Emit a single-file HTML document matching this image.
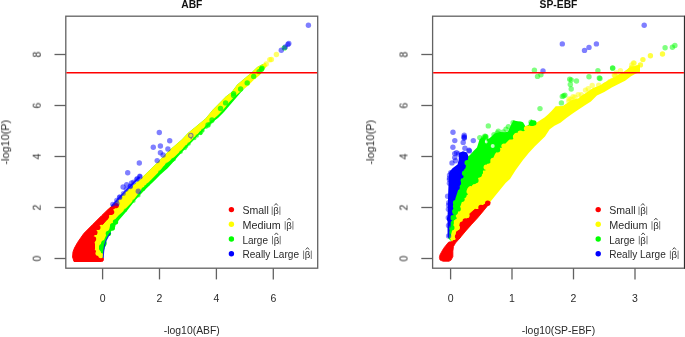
<!DOCTYPE html>
<html><head><meta charset="utf-8"><style>
html,body{margin:0;padding:0;background:#fff;width:685px;height:337px;overflow:hidden}
svg{display:block} text{will-change:transform}
</style></head><body>
<svg width="685" height="337" viewBox="0 0 685 337">
<polygon points="102.8,261.0 103.4,257.6 103.4,254.0 104.0,249.3 105.2,243.3 106.5,240.0 107.7,237.2 110.1,233.1 113.1,228.3 116.0,224.2 119.0,220.0 122.5,216.0 128.0,209.5 135.0,200.5 144.7,190.0 155.4,179.7 160.0,175.0 167.6,168.3 172.8,162.4 178.0,156.5 185.0,149.0 192.4,141.5 197.6,136.0 202.8,131.1 208.0,126.0 212.0,122.5 218.0,118.0 224.0,112.0 230.0,105.0 266.0,63.0 262.0,64.5 257.3,66.9 251.4,72.8 244.2,78.7 237.1,84.7 231.8,91.9 225.9,96.6 218.7,103.7 212.8,109.7 205.6,118.5 195.4,127.0 188.0,133.0 181.9,139.5 170.0,149.8 163.7,156.3 151.9,168.0 140.0,179.6 126.7,191.0 116.0,201.5 110.0,207.5 105.0,214.0 92.0,240.0 92.0,258.0" fill="#00ff00" />
<polygon points="101.5,254.5 100.2,250.5 100.6,246.0 104.0,240.0 106.0,235.4 108.3,230.7 111.9,224.7 114.5,220.0 118.5,215.5 123.0,211.5 132.0,202.0 142.4,188.5 151.9,179.0 158.0,172.7 163.9,166.1 166.9,162.9 172.8,158.5 178.0,153.5 185.0,146.5 192.4,139.3 198.4,133.3 202.8,128.9 208.0,123.7 212.8,119.8 218.7,114.4 224.7,108.0 229.4,102.0 234.7,96.5 241.9,90.6 247.8,85.9 253.7,79.9 259.7,75.2 264.4,69.2 267.0,66.0 266.0,63.0 262.0,64.5 257.3,66.9 251.4,72.8 244.2,78.7 237.1,84.7 231.8,91.9 225.9,96.6 218.7,103.7 212.8,109.7 205.6,118.5 195.4,127.0 188.0,133.0 181.9,139.5 170.0,149.8 163.7,156.3 151.9,168.0 140.0,179.6 126.7,191.0 116.0,201.5 110.0,207.5 105.0,214.0 92.0,240.0 92.0,256.0" fill="#ffff00" />
<polygon points="74.0,261.5 72.6,257.0 73.0,252.0 74.5,248.0 77.6,242.4 83.8,233.5 92.7,224.6 101.6,215.7 108.0,209.5 113.5,205.0 116.5,205.5 114.0,212.1 108.7,217.5 102.5,224.6 97.2,231.7 94.5,240.6 94.5,249.5 97.0,254.0 101.6,256.6 103.5,258.5 103.0,261.0 101.6,261.5" fill="#ff0000" stroke="#ff0000" stroke-width="1" stroke-linejoin="round"/>
<circle cx="101.2" cy="228.2" r="2.7" fill="#ffff00"/>
<circle cx="98.2" cy="253.2" r="2.7" fill="#ffff00"/>
<circle cx="99.2" cy="230.9" r="2.7" fill="#ffff00"/>
<circle cx="112.0" cy="215.9" r="2.7" fill="#ffff00"/>
<circle cx="96.3" cy="237.5" r="2.7" fill="#ffff00"/>
<circle cx="116.1" cy="211.7" r="2.7" fill="#ffff00"/>
<circle cx="115.6" cy="211.1" r="2.7" fill="#ffff00"/>
<circle cx="96.4" cy="241.0" r="2.7" fill="#ffff00"/>
<circle cx="100.9" cy="255.6" r="2.7" fill="#ffff00"/>
<circle cx="96.1" cy="239.0" r="2.7" fill="#ffff00"/>
<circle cx="113.7" cy="215.2" r="2.7" fill="#ffff00"/>
<circle cx="99.0" cy="232.4" r="2.7" fill="#ffff00"/>
<circle cx="112.0" cy="216.4" r="2.7" fill="#ffff00"/>
<circle cx="118.1" cy="208.3" r="2.7" fill="#ffff00"/>
<circle cx="101.3" cy="227.4" r="2.7" fill="#ffff00"/>
<circle cx="98.7" cy="231.5" r="2.7" fill="#ffff00"/>
<circle cx="97.8" cy="227.4" r="2.7" fill="#ff0000"/>
<circle cx="93.5" cy="239.0" r="2.7" fill="#ff0000"/>
<circle cx="116.2" cy="205.6" r="2.7" fill="#ff0000"/>
<circle cx="105.6" cy="217.6" r="2.7" fill="#ff0000"/>
<circle cx="92.5" cy="240.8" r="2.7" fill="#ff0000"/>
<circle cx="94.8" cy="232.4" r="2.7" fill="#ff0000"/>
<circle cx="111.6" cy="212.1" r="2.7" fill="#ff0000"/>
<circle cx="110.4" cy="212.4" r="2.7" fill="#ff0000"/>
<circle cx="103.5" cy="244.5" r="2.7" fill="#00ff00"/>
<circle cx="112.3" cy="228.0" r="2.7" fill="#00ff00"/>
<circle cx="101.8" cy="246.6" r="2.7" fill="#00ff00"/>
<circle cx="101.7" cy="248.3" r="2.7" fill="#00ff00"/>
<circle cx="112.7" cy="225.6" r="2.7" fill="#00ff00"/>
<circle cx="108.4" cy="233.4" r="2.7" fill="#00ff00"/>
<circle cx="104.0" cy="243.0" r="2.7" fill="#00ff00"/>
<circle cx="115.5" cy="221.9" r="2.7" fill="#00ff00"/>
<circle cx="209.9" cy="123.3" r="1.8" fill="#00ff00" fill-opacity="0.6"/>
<circle cx="189.0" cy="144.0" r="1.8" fill="#00ff00" fill-opacity="0.6"/>
<circle cx="212.0" cy="121.6" r="1.8" fill="#00ff00" fill-opacity="0.6"/>
<circle cx="202.4" cy="131.3" r="1.8" fill="#00ff00" fill-opacity="0.6"/>
<circle cx="200.5" cy="133.4" r="1.8" fill="#00ff00" fill-opacity="0.6"/>
<circle cx="143.7" cy="188.8" r="1.8" fill="#00ff00" fill-opacity="0.6"/>
<circle cx="186.5" cy="146.6" r="1.8" fill="#00ff00" fill-opacity="0.6"/>
<circle cx="145.8" cy="186.6" r="1.8" fill="#00ff00" fill-opacity="0.6"/>
<circle cx="200.5" cy="133.3" r="1.8" fill="#00ff00" fill-opacity="0.6"/>
<circle cx="194.7" cy="138.5" r="1.8" fill="#00ff00" fill-opacity="0.6"/>
<circle cx="206.4" cy="127.1" r="1.8" fill="#00ff00" fill-opacity="0.6"/>
<circle cx="143.1" cy="189.5" r="1.8" fill="#00ff00" fill-opacity="0.6"/>
<circle cx="159.8" cy="172.1" r="1.8" fill="#00ff00" fill-opacity="0.6"/>
<circle cx="173.2" cy="159.6" r="1.8" fill="#00ff00" fill-opacity="0.6"/>
<circle cx="174.1" cy="159.4" r="1.8" fill="#00ff00" fill-opacity="0.6"/>
<circle cx="180.9" cy="152.3" r="1.8" fill="#00ff00" fill-opacity="0.6"/>
<circle cx="201.1" cy="132.9" r="1.8" fill="#00ff00" fill-opacity="0.6"/>
<circle cx="166.3" cy="165.8" r="1.8" fill="#00ff00" fill-opacity="0.6"/>
<circle cx="125.4" cy="210.4" r="1.8" fill="#00ff00" fill-opacity="0.6"/>
<circle cx="138.8" cy="195.8" r="1.8" fill="#00ff00" fill-opacity="0.6"/>
<circle cx="185.1" cy="148.4" r="1.8" fill="#00ff00" fill-opacity="0.6"/>
<circle cx="148.0" cy="184.6" r="1.8" fill="#00ff00" fill-opacity="0.6"/>
<circle cx="202.8" cy="130.3" r="1.8" fill="#00ff00" fill-opacity="0.6"/>
<circle cx="133.9" cy="201.1" r="1.8" fill="#00ff00" fill-opacity="0.6"/>
<circle cx="164.4" cy="167.8" r="1.8" fill="#00ff00" fill-opacity="0.6"/>
<circle cx="172.3" cy="160.4" r="1.8" fill="#00ff00" fill-opacity="0.6"/>
<circle cx="167.0" cy="164.3" r="1.8" fill="#00ff00" fill-opacity="0.6"/>
<circle cx="208.5" cy="124.9" r="1.8" fill="#00ff00" fill-opacity="0.6"/>
<circle cx="143.3" cy="189.2" r="1.8" fill="#00ff00" fill-opacity="0.6"/>
<circle cx="197.2" cy="136.0" r="1.8" fill="#00ff00" fill-opacity="0.6"/>
<polyline points="103.2,258 103.6,252 104.6,245 106.2,240.2 108.2,236.4 110.5,232.8" fill="none" stroke="#0000ff" stroke-width="1.1" stroke-opacity="0.85"/>
<circle cx="276.4" cy="54.5" r="2.7" fill="#ffff00" fill-opacity="0.6"/>
<circle cx="271.4" cy="59.5" r="2.7" fill="#ffff00" fill-opacity="0.6"/>
<circle cx="266.2" cy="63.9" r="2.7" fill="#ffff00" fill-opacity="0.6"/>
<circle cx="269.8" cy="59.7" r="2.7" fill="#ffff00" fill-opacity="0.6"/>
<circle cx="220.5" cy="108.5" r="2.7" fill="#00ff00" fill-opacity="0.75"/>
<circle cx="225.6" cy="102.9" r="2.7" fill="#00ff00" fill-opacity="0.75"/>
<circle cx="233.6" cy="95.4" r="2.7" fill="#00ff00" fill-opacity="0.75"/>
<circle cx="233.6" cy="93.6" r="2.7" fill="#00ff00" fill-opacity="0.75"/>
<circle cx="247.2" cy="82.9" r="2.7" fill="#00ff00" fill-opacity="0.75"/>
<circle cx="253.7" cy="76.4" r="2.7" fill="#00ff00" fill-opacity="0.75"/>
<circle cx="259.1" cy="71.6" r="2.7" fill="#00ff00" fill-opacity="0.75"/>
<circle cx="261.5" cy="69.2" r="2.7" fill="#00ff00" fill-opacity="0.75"/>
<circle cx="262.0" cy="68.1" r="2.7" fill="#00ff00" fill-opacity="0.75"/>
<circle cx="284.4" cy="47.9" r="2.7" fill="#00ff00" fill-opacity="0.75"/>
<circle cx="240.6" cy="89.0" r="2.7" fill="#00ff00" fill-opacity="0.75"/>
<circle cx="212.0" cy="120.0" r="2.7" fill="#00ff00" fill-opacity="0.75"/>
<circle cx="208.0" cy="125.0" r="2.7" fill="#00ff00" fill-opacity="0.75"/>
<circle cx="112.6" cy="204.3" r="2.5" fill="#0000ff" fill-opacity="0.45"/>
<circle cx="116.6" cy="200.2" r="2.5" fill="#0000ff" fill-opacity="0.45"/>
<circle cx="119.7" cy="196.8" r="2.5" fill="#0000ff" fill-opacity="0.45"/>
<circle cx="123.3" cy="193.6" r="2.5" fill="#0000ff" fill-opacity="0.45"/>
<circle cx="126.1" cy="189.3" r="2.5" fill="#0000ff" fill-opacity="0.45"/>
<circle cx="130.2" cy="186.1" r="2.5" fill="#0000ff" fill-opacity="0.45"/>
<circle cx="133.5" cy="182.1" r="2.5" fill="#0000ff" fill-opacity="0.45"/>
<circle cx="136.6" cy="179.3" r="2.5" fill="#0000ff" fill-opacity="0.45"/>
<circle cx="139.7" cy="175.9" r="2.5" fill="#0000ff" fill-opacity="0.45"/>
<polyline points="112,205.5 119,198 127,189.5 133,183.3 139,177.5" fill="none" stroke="#0000ff" stroke-width="1.8" stroke-opacity="0.8" stroke-linecap="round"/>
<circle cx="159.3" cy="132.5" r="2.7" fill="#0000ff" fill-opacity="0.5"/>
<circle cx="169.7" cy="140.7" r="2.7" fill="#0000ff" fill-opacity="0.5"/>
<circle cx="153.3" cy="147.3" r="2.7" fill="#0000ff" fill-opacity="0.5"/>
<circle cx="160.4" cy="146.0" r="2.7" fill="#0000ff" fill-opacity="0.5"/>
<circle cx="167.9" cy="149.0" r="2.7" fill="#0000ff" fill-opacity="0.5"/>
<circle cx="160.4" cy="152.8" r="2.7" fill="#0000ff" fill-opacity="0.5"/>
<circle cx="163.1" cy="155.0" r="2.7" fill="#0000ff" fill-opacity="0.5"/>
<circle cx="157.2" cy="160.6" r="2.7" fill="#0000ff" fill-opacity="0.5"/>
<circle cx="139.3" cy="163.0" r="2.7" fill="#0000ff" fill-opacity="0.5"/>
<circle cx="127.7" cy="172.8" r="2.7" fill="#0000ff" fill-opacity="0.5"/>
<circle cx="140.0" cy="176.8" r="2.7" fill="#0000ff" fill-opacity="0.5"/>
<circle cx="137.3" cy="178.8" r="2.7" fill="#0000ff" fill-opacity="0.5"/>
<circle cx="131.6" cy="183.0" r="2.7" fill="#0000ff" fill-opacity="0.5"/>
<circle cx="126.7" cy="184.8" r="2.7" fill="#0000ff" fill-opacity="0.5"/>
<circle cx="123.1" cy="187.0" r="2.7" fill="#0000ff" fill-opacity="0.5"/>
<circle cx="130.3" cy="186.6" r="2.7" fill="#0000ff" fill-opacity="0.5"/>
<circle cx="119.6" cy="197.4" r="2.7" fill="#0000ff" fill-opacity="0.5"/>
<circle cx="116.9" cy="203.6" r="2.7" fill="#0000ff" fill-opacity="0.5"/>
<circle cx="138.3" cy="191.2" r="2.7" fill="#0000ff" fill-opacity="0.5"/>
<circle cx="190.8" cy="135.4" r="2.7" fill="#0000ff" fill-opacity="0.5"/>
<circle cx="288.8" cy="43.5" r="2.7" fill="#0000ff" fill-opacity="0.5"/>
<circle cx="287.9" cy="44.4" r="2.7" fill="#0000ff" fill-opacity="0.5"/>
<circle cx="285.3" cy="47.0" r="2.7" fill="#0000ff" fill-opacity="0.5"/>
<circle cx="281.3" cy="50.3" r="2.7" fill="#0000ff" fill-opacity="0.5"/>
<circle cx="308.4" cy="25.3" r="2.7" fill="#0000ff" fill-opacity="0.5"/>
<circle cx="190.8" cy="135.4" r="1.6" fill="#e8e840" fill-opacity="0.9"/>
<circle cx="191.2" cy="138.6" r="0.9" fill="#0000ff" fill-opacity="0.45"/>
<polygon points="466.0,158.0 470.0,155.0 474.0,150.5 477.0,147.5 479.5,139.5 482.0,137.3 484.5,138.0 485.6,142.5 487.0,139.0 489.5,138.2 492.0,136.0 494.5,133.5 500.0,132.0 505.2,132.2 508.0,131.5 510.5,126.0 513.3,120.5 519.3,121.5 523.0,122.3 525.5,126.5 528.5,125.0 531.1,119.6 533.8,121.5 535.0,126.0 530.0,140.0 500.0,185.0 470.0,225.0 452.0,242.0 448.0,238.0 449.0,200.0 458.0,165.0" fill="#00ff00" />
<polygon points="640.0,64.5 635.0,65.9 629.5,67.4 625.1,71.1 619.1,74.1 614.7,77.8 607.3,80.8 599.8,85.5 593.0,88.0 585.0,93.5 580.6,96.2 578.2,98.6 572.3,99.7 568.7,102.1 562.8,106.0 555.7,106.3 552.0,110.5 548.0,114.5 544.5,117.5 537.1,122.3 529.7,125.2 522.3,129.7 514.8,135.6 508.9,140.1 504.5,144.5 500.0,147.5 495.0,154.0 492.7,159.2 487.4,163.6 484.0,169.0 480.5,174.5 476.5,181.0 472.0,185.5 468.0,190.0 465.0,196.0 462.5,200.0 460.5,206.0 456.5,213.0 454.0,222.8 451.8,231.7 450.0,238.8 453.5,244.0 459.9,238.0 465.8,230.9 471.7,224.3 477.7,217.8 483.6,210.7 488.0,205.3 490.2,202.0 495.0,196.0 499.7,190.2 505.6,183.1 510.0,178.9 515.7,170.0 522.8,160.3 528.7,153.1 534.7,146.6 540.6,140.7 545.0,136.5 549.7,129.2 554.5,125.7 560.4,122.7 566.4,118.0 572.3,113.8 578.2,109.7 585.0,105.3 590.9,101.5 596.9,95.6 604.3,91.9 611.7,87.4 619.1,83.7 625.1,80.7 631.0,76.3 635.0,74.1 640.0,71.7" fill="#ffff00" />
<polygon points="459.0,153.0 463.0,151.3 467.0,152.5 468.3,156.0 467.8,160.0 465.8,164.0 464.5,168.3 463.2,172.7 461.5,177.0 460.3,181.6 457.8,191.1 455.5,198.2 454.5,203.0 453.6,208.0 452.2,215.0 451.0,221.0 449.8,228.5 448.8,238.0 447.6,237.0 447.5,228.0 447.6,215.7 447.9,205.0 448.1,194.7 448.6,182.8 449.0,176.0 449.3,172.0 452.5,168.3 457.5,164.5 458.7,160.0" fill="#0000ff" />
<polygon points="490.2,202.0 488.0,205.3 483.6,210.7 477.7,217.8 471.7,224.3 465.8,230.9 459.9,238.0 455.5,243.0 453.5,246.5 452.9,251.2 452.9,256.6 451.1,260.1 449.0,261.3 443.1,261.3 440.0,260.0 439.4,257.5 439.9,255.0 441.2,252.5 443.5,248.5 446.0,245.2 448.7,242.1 452.5,241.5 455.1,238.0 456.3,233.2 458.1,228.5 459.9,224.9 463.4,221.4 467.0,216.6 470.6,213.1 475.3,208.9 480.0,205.3 484.8,203.6 488.0,201.5" fill="#ff0000" stroke="#ff0000" stroke-width="0.8" stroke-linejoin="round"/>
<circle cx="479.9" cy="203.5" r="2.7" fill="#ffff00"/>
<circle cx="462.2" cy="220.6" r="2.7" fill="#ffff00"/>
<circle cx="477.2" cy="205.1" r="2.7" fill="#ffff00"/>
<circle cx="456.6" cy="228.1" r="2.7" fill="#ffff00"/>
<circle cx="466.5" cy="215.5" r="2.7" fill="#ffff00"/>
<circle cx="487.1" cy="200.5" r="2.7" fill="#ffff00"/>
<circle cx="464.0" cy="219.1" r="2.7" fill="#ffff00"/>
<circle cx="457.3" cy="227.5" r="2.7" fill="#ffff00"/>
<circle cx="477.1" cy="206.4" r="2.7" fill="#ffff00"/>
<circle cx="453.4" cy="237.4" r="2.7" fill="#ffff00"/>
<circle cx="455.3" cy="231.3" r="2.7" fill="#ffff00"/>
<circle cx="485.9" cy="201.4" r="2.7" fill="#ffff00"/>
<circle cx="466.9" cy="215.4" r="2.7" fill="#ffff00"/>
<circle cx="454.4" cy="235.3" r="2.7" fill="#ffff00"/>
<circle cx="480.3" cy="203.1" r="2.7" fill="#ffff00"/>
<circle cx="481.7" cy="202.5" r="2.7" fill="#ffff00"/>
<circle cx="457.9" cy="236.5" r="2.7" fill="#ff0000"/>
<circle cx="487.7" cy="203.2" r="2.7" fill="#ff0000"/>
<circle cx="481.0" cy="207.5" r="2.7" fill="#ff0000"/>
<circle cx="464.0" cy="223.7" r="2.7" fill="#ff0000"/>
<circle cx="458.6" cy="233.3" r="2.7" fill="#ff0000"/>
<circle cx="457.6" cy="236.5" r="2.7" fill="#ff0000"/>
<circle cx="465.3" cy="221.0" r="2.7" fill="#ff0000"/>
<circle cx="462.3" cy="224.3" r="2.7" fill="#ff0000"/>
<circle cx="454.8" cy="212.0" r="2.7" fill="#00ff00"/>
<circle cx="458.1" cy="208.9" r="2.7" fill="#00ff00"/>
<circle cx="479.0" cy="174.7" r="2.7" fill="#00ff00"/>
<circle cx="483.9" cy="167.9" r="2.7" fill="#00ff00"/>
<circle cx="514.3" cy="134.5" r="2.7" fill="#00ff00"/>
<circle cx="511.2" cy="136.9" r="2.7" fill="#00ff00"/>
<circle cx="533.8" cy="122.9" r="2.7" fill="#00ff00"/>
<circle cx="469.3" cy="186.9" r="2.7" fill="#00ff00"/>
<circle cx="484.4" cy="165.4" r="2.7" fill="#00ff00"/>
<circle cx="497.6" cy="149.7" r="2.7" fill="#00ff00"/>
<circle cx="463.8" cy="195.4" r="2.7" fill="#00ff00"/>
<circle cx="473.9" cy="181.5" r="2.7" fill="#00ff00"/>
<circle cx="454.0" cy="218.7" r="2.7" fill="#00ff00"/>
<circle cx="465.5" cy="192.7" r="2.7" fill="#00ff00"/>
<circle cx="480.2" cy="172.2" r="2.7" fill="#00ff00"/>
<circle cx="502.0" cy="145.4" r="2.7" fill="#00ff00"/>
<circle cx="488.0" cy="161.1" r="2.7" fill="#00ff00"/>
<circle cx="479.1" cy="174.5" r="2.7" fill="#00ff00"/>
<circle cx="475.9" cy="180.5" r="2.7" fill="#00ff00"/>
<circle cx="515.8" cy="133.5" r="2.7" fill="#00ff00"/>
<circle cx="462.0" cy="199.3" r="2.7" fill="#00ff00"/>
<circle cx="523.0" cy="128.5" r="2.7" fill="#00ff00"/>
<circle cx="531.9" cy="123.4" r="2.7" fill="#00ff00"/>
<circle cx="479.9" cy="172.2" r="2.7" fill="#00ff00"/>
<circle cx="470.8" cy="188.7" r="2.7" fill="#ffff00"/>
<circle cx="516.6" cy="135.4" r="2.7" fill="#ffff00"/>
<circle cx="515.6" cy="136.7" r="2.7" fill="#ffff00"/>
<circle cx="526.6" cy="128.6" r="2.7" fill="#ffff00"/>
<circle cx="520.2" cy="133.1" r="2.7" fill="#ffff00"/>
<circle cx="469.8" cy="189.9" r="2.7" fill="#ffff00"/>
<circle cx="493.1" cy="160.4" r="2.7" fill="#ffff00"/>
<circle cx="456.4" cy="221.7" r="2.7" fill="#ffff00"/>
<circle cx="486.3" cy="167.3" r="2.7" fill="#ffff00"/>
<circle cx="469.2" cy="191.4" r="2.7" fill="#ffff00"/>
<circle cx="504.0" cy="146.1" r="2.7" fill="#ffff00"/>
<circle cx="527.4" cy="128.1" r="2.7" fill="#ffff00"/>
<circle cx="457.5" cy="184.1" r="2.7" fill="#0000ff"/>
<circle cx="450.6" cy="217.2" r="2.7" fill="#0000ff"/>
<circle cx="449.7" cy="219.0" r="2.7" fill="#0000ff"/>
<circle cx="464.1" cy="160.9" r="2.7" fill="#0000ff"/>
<circle cx="460.9" cy="175.9" r="2.7" fill="#0000ff"/>
<circle cx="457.1" cy="187.5" r="2.7" fill="#0000ff"/>
<circle cx="463.0" cy="166.7" r="2.7" fill="#0000ff"/>
<circle cx="450.4" cy="216.3" r="2.7" fill="#0000ff"/>
<circle cx="450.8" cy="213.6" r="2.7" fill="#0000ff"/>
<circle cx="451.0" cy="215.8" r="2.7" fill="#0000ff"/>
<circle cx="458.4" cy="183.0" r="2.7" fill="#0000ff"/>
<circle cx="463.0" cy="165.2" r="2.7" fill="#0000ff"/>
<circle cx="455.2" cy="211.0" r="2.7" fill="#00ff00"/>
<circle cx="464.6" cy="173.3" r="2.7" fill="#00ff00"/>
<circle cx="467.2" cy="162.8" r="2.7" fill="#00ff00"/>
<circle cx="455.1" cy="212.2" r="2.7" fill="#00ff00"/>
<circle cx="455.6" cy="206.3" r="2.7" fill="#00ff00"/>
<circle cx="455.6" cy="202.8" r="2.7" fill="#00ff00"/>
<circle cx="451.8" cy="227.8" r="2.7" fill="#00ff00"/>
<circle cx="453.0" cy="217.7" r="2.7" fill="#00ff00"/>
<circle cx="448.6" cy="205.3" r="2.7" fill="#0000ff" fill-opacity="0.45"/>
<circle cx="448.5" cy="225.4" r="2.7" fill="#0000ff" fill-opacity="0.45"/>
<circle cx="448.7" cy="202.7" r="2.7" fill="#0000ff" fill-opacity="0.45"/>
<circle cx="447.6" cy="196.2" r="2.7" fill="#0000ff" fill-opacity="0.45"/>
<circle cx="449.5" cy="175.1" r="2.7" fill="#0000ff" fill-opacity="0.45"/>
<circle cx="449.4" cy="183.3" r="2.7" fill="#0000ff" fill-opacity="0.45"/>
<circle cx="448.6" cy="235.9" r="2.7" fill="#0000ff" fill-opacity="0.45"/>
<circle cx="448.4" cy="209.3" r="2.7" fill="#0000ff" fill-opacity="0.45"/>
<circle cx="448.3" cy="217.7" r="2.7" fill="#0000ff" fill-opacity="0.45"/>
<circle cx="449.4" cy="179.6" r="2.7" fill="#0000ff" fill-opacity="0.45"/>
<circle cx="592.2" cy="85.5" r="2.7" fill="#ffff00" fill-opacity="0.5"/>
<circle cx="571.0" cy="99.2" r="2.7" fill="#ffff00" fill-opacity="0.5"/>
<circle cx="634.1" cy="63.1" r="2.7" fill="#ffff00" fill-opacity="0.5"/>
<circle cx="615.1" cy="75.4" r="2.7" fill="#ffff00" fill-opacity="0.5"/>
<circle cx="581.3" cy="94.6" r="2.7" fill="#ffff00" fill-opacity="0.5"/>
<circle cx="574.9" cy="97.2" r="2.7" fill="#ffff00" fill-opacity="0.5"/>
<circle cx="633.5" cy="62.9" r="2.7" fill="#ffff00" fill-opacity="0.5"/>
<circle cx="598.7" cy="85.1" r="2.7" fill="#ffff00" fill-opacity="0.5"/>
<circle cx="578.2" cy="94.6" r="2.7" fill="#ffff00" fill-opacity="0.5"/>
<circle cx="585.5" cy="90.1" r="2.7" fill="#ffff00" fill-opacity="0.5"/>
<circle cx="568.9" cy="101.3" r="2.7" fill="#ffff00" fill-opacity="0.5"/>
<circle cx="569.1" cy="98.9" r="2.7" fill="#ffff00" fill-opacity="0.5"/>
<circle cx="620.4" cy="70.8" r="2.7" fill="#ffff00" fill-opacity="0.5"/>
<circle cx="614.3" cy="75.0" r="2.7" fill="#ffff00" fill-opacity="0.5"/>
<circle cx="588.2" cy="88.8" r="2.7" fill="#ffff00" fill-opacity="0.5"/>
<circle cx="631.8" cy="65.0" r="2.7" fill="#ffff00" fill-opacity="0.5"/>
<circle cx="616.3" cy="72.9" r="2.7" fill="#ffff00" fill-opacity="0.5"/>
<circle cx="573.1" cy="96.7" r="2.7" fill="#ffff00" fill-opacity="0.5"/>
<circle cx="484.8" cy="136.1" r="2.7" fill="#00ff00" fill-opacity="0.5"/>
<circle cx="506.0" cy="129.1" r="2.7" fill="#00ff00" fill-opacity="0.5"/>
<circle cx="485.7" cy="137.0" r="2.7" fill="#00ff00" fill-opacity="0.5"/>
<circle cx="498.3" cy="131.1" r="2.7" fill="#00ff00" fill-opacity="0.5"/>
<circle cx="497.4" cy="132.9" r="2.7" fill="#00ff00" fill-opacity="0.5"/>
<circle cx="485.7" cy="136.4" r="2.7" fill="#00ff00" fill-opacity="0.5"/>
<circle cx="479.8" cy="137.6" r="2.7" fill="#00ff00" fill-opacity="0.5"/>
<circle cx="483.6" cy="138.0" r="2.7" fill="#00ff00" fill-opacity="0.5"/>
<circle cx="494.0" cy="134.6" r="2.7" fill="#00ff00" fill-opacity="0.5"/>
<circle cx="485.5" cy="138.0" r="2.7" fill="#00ff00" fill-opacity="0.5"/>
<circle cx="503.3" cy="131.9" r="2.7" fill="#00ff00" fill-opacity="0.5"/>
<circle cx="508.4" cy="126.6" r="2.7" fill="#00ff00" fill-opacity="0.5"/>
<circle cx="492.7" cy="146.0" r="2.0" fill="#ffffff" fill-opacity="0.75"/>
<circle cx="486.2" cy="142.0" r="1.4" fill="#ffffff" fill-opacity="0.75"/>
<circle cx="662.5" cy="54.0" r="2.7" fill="#ffff00" fill-opacity="0.75"/>
<circle cx="650.4" cy="55.8" r="2.7" fill="#ffff00" fill-opacity="0.75"/>
<circle cx="642.9" cy="59.6" r="2.7" fill="#ffff00" fill-opacity="0.75"/>
<circle cx="640.4" cy="64.9" r="2.7" fill="#ffff00" fill-opacity="0.75"/>
<circle cx="636.6" cy="67.9" r="2.7" fill="#ffff00" fill-opacity="0.75"/>
<circle cx="630.3" cy="70.4" r="2.7" fill="#ffff00" fill-opacity="0.75"/>
<circle cx="631.5" cy="67.9" r="2.7" fill="#ffff00" fill-opacity="0.75"/>
<circle cx="625.2" cy="74.2" r="2.7" fill="#ffff00" fill-opacity="0.75"/>
<circle cx="621.4" cy="76.7" r="2.7" fill="#ffff00" fill-opacity="0.75"/>
<circle cx="615.1" cy="79.3" r="2.7" fill="#ffff00" fill-opacity="0.75"/>
<circle cx="610.1" cy="81.8" r="2.7" fill="#ffff00" fill-opacity="0.75"/>
<circle cx="605.0" cy="85.1" r="2.7" fill="#ffff00" fill-opacity="0.75"/>
<circle cx="601.3" cy="88.1" r="2.7" fill="#ffff00" fill-opacity="0.75"/>
<circle cx="634.0" cy="70.5" r="2.7" fill="#ffff00" fill-opacity="0.75"/>
<circle cx="627.5" cy="72.5" r="2.7" fill="#ffff00" fill-opacity="0.75"/>
<circle cx="618.0" cy="78.0" r="2.7" fill="#ffff00" fill-opacity="0.75"/>
<circle cx="612.5" cy="80.5" r="2.7" fill="#ffff00" fill-opacity="0.75"/>
<circle cx="534.4" cy="70.3" r="2.7" fill="#00ff00" fill-opacity="0.5"/>
<circle cx="537.5" cy="76.4" r="2.7" fill="#00ff00" fill-opacity="0.5"/>
<circle cx="540.9" cy="74.8" r="2.7" fill="#00ff00" fill-opacity="0.5"/>
<circle cx="540.0" cy="108.6" r="2.7" fill="#00ff00" fill-opacity="0.5"/>
<circle cx="531.0" cy="122.3" r="2.7" fill="#00ff00" fill-opacity="0.5"/>
<circle cx="513.1" cy="122.8" r="2.7" fill="#00ff00" fill-opacity="0.5"/>
<circle cx="520.3" cy="124.0" r="2.7" fill="#00ff00" fill-opacity="0.5"/>
<circle cx="488.3" cy="125.9" r="2.7" fill="#00ff00" fill-opacity="0.5"/>
<circle cx="597.9" cy="70.6" r="2.7" fill="#00ff00" fill-opacity="0.5"/>
<circle cx="612.7" cy="68.2" r="2.7" fill="#00ff00" fill-opacity="0.5"/>
<circle cx="569.7" cy="79.2" r="2.7" fill="#00ff00" fill-opacity="0.5"/>
<circle cx="576.5" cy="81.0" r="2.7" fill="#00ff00" fill-opacity="0.5"/>
<circle cx="589.0" cy="76.8" r="2.7" fill="#00ff00" fill-opacity="0.5"/>
<circle cx="599.3" cy="78.0" r="2.7" fill="#00ff00" fill-opacity="0.5"/>
<circle cx="570.3" cy="84.5" r="2.7" fill="#00ff00" fill-opacity="0.5"/>
<circle cx="571.2" cy="89.0" r="2.7" fill="#00ff00" fill-opacity="0.5"/>
<circle cx="563.7" cy="95.8" r="2.7" fill="#00ff00" fill-opacity="0.5"/>
<circle cx="561.4" cy="102.9" r="2.7" fill="#00ff00" fill-opacity="0.5"/>
<circle cx="562.3" cy="96.4" r="2.7" fill="#00ff00" fill-opacity="0.5"/>
<circle cx="564.9" cy="95.1" r="2.7" fill="#00ff00" fill-opacity="0.5"/>
<circle cx="571.2" cy="80.0" r="2.7" fill="#00ff00" fill-opacity="0.5"/>
<circle cx="665.1" cy="47.7" r="2.7" fill="#00ff00" fill-opacity="0.5"/>
<circle cx="672.4" cy="47.2" r="2.7" fill="#00ff00" fill-opacity="0.5"/>
<circle cx="674.9" cy="45.5" r="2.7" fill="#00ff00" fill-opacity="0.5"/>
<circle cx="612.6" cy="67.9" r="2.7" fill="#00ff00" fill-opacity="0.5"/>
<circle cx="600.0" cy="78.5" r="2.7" fill="#00ff00" fill-opacity="0.5"/>
<circle cx="516.7" cy="128.5" r="2.7" fill="#00ff00" fill-opacity="0.5"/>
<circle cx="518.5" cy="126.0" r="2.7" fill="#00ff00" fill-opacity="0.5"/>
<circle cx="453.0" cy="132.3" r="2.7" fill="#0000ff" fill-opacity="0.5"/>
<circle cx="464.2" cy="135.2" r="2.7" fill="#0000ff" fill-opacity="0.5"/>
<circle cx="464.2" cy="138.3" r="2.7" fill="#0000ff" fill-opacity="0.5"/>
<circle cx="464.2" cy="136.7" r="2.7" fill="#0000ff" fill-opacity="0.5"/>
<circle cx="464.2" cy="137.5" r="2.7" fill="#0000ff" fill-opacity="0.5"/>
<circle cx="454.8" cy="140.6" r="2.7" fill="#0000ff" fill-opacity="0.5"/>
<circle cx="463.2" cy="142.4" r="2.7" fill="#0000ff" fill-opacity="0.5"/>
<circle cx="473.3" cy="140.6" r="2.7" fill="#0000ff" fill-opacity="0.5"/>
<circle cx="452.9" cy="147.3" r="2.7" fill="#0000ff" fill-opacity="0.5"/>
<circle cx="464.9" cy="148.2" r="2.7" fill="#0000ff" fill-opacity="0.5"/>
<circle cx="469.4" cy="150.9" r="2.7" fill="#0000ff" fill-opacity="0.5"/>
<circle cx="469.0" cy="150.3" r="2.7" fill="#0000ff" fill-opacity="0.5"/>
<circle cx="454.7" cy="153.6" r="2.7" fill="#0000ff" fill-opacity="0.5"/>
<circle cx="456.5" cy="152.7" r="2.7" fill="#0000ff" fill-opacity="0.5"/>
<circle cx="458.5" cy="154.0" r="2.7" fill="#0000ff" fill-opacity="0.5"/>
<circle cx="452.0" cy="162.9" r="2.7" fill="#0000ff" fill-opacity="0.5"/>
<circle cx="450.7" cy="172.7" r="2.7" fill="#0000ff" fill-opacity="0.5"/>
<circle cx="454.7" cy="157.6" r="2.7" fill="#0000ff" fill-opacity="0.5"/>
<circle cx="455.5" cy="160.7" r="2.7" fill="#0000ff" fill-opacity="0.5"/>
<circle cx="462.3" cy="156.5" r="2.7" fill="#0000ff" fill-opacity="0.5"/>
<circle cx="449.5" cy="178.0" r="2.7" fill="#0000ff" fill-opacity="0.5"/>
<circle cx="543.0" cy="71.0" r="2.7" fill="#0000ff" fill-opacity="0.5"/>
<circle cx="562.3" cy="43.9" r="2.7" fill="#0000ff" fill-opacity="0.5"/>
<circle cx="584.5" cy="50.4" r="2.7" fill="#0000ff" fill-opacity="0.5"/>
<circle cx="589.0" cy="47.4" r="2.7" fill="#0000ff" fill-opacity="0.5"/>
<circle cx="596.4" cy="43.9" r="2.7" fill="#0000ff" fill-opacity="0.5"/>
<circle cx="644.2" cy="25.3" r="2.7" fill="#0000ff" fill-opacity="0.5"/>
<rect x="65.8" y="16.2" width="251.9" height="252.0" fill="none" stroke="#626262" stroke-width="1.3"/>
<line x1="54.5" y1="258.5" x2="65.8" y2="258.5" stroke="#626262" stroke-width="1.3"/>
<text x="40.2" y="258.5" transform="rotate(-90 40.2 258.5)" text-anchor="middle" dy="0" font-size="10.5" font-family="Liberation Sans, sans-serif" fill="#2a2a2a">0</text>
<line x1="54.5" y1="207.5" x2="65.8" y2="207.5" stroke="#626262" stroke-width="1.3"/>
<text x="40.2" y="207.5" transform="rotate(-90 40.2 207.5)" text-anchor="middle" dy="0" font-size="10.5" font-family="Liberation Sans, sans-serif" fill="#2a2a2a">2</text>
<line x1="54.5" y1="156.5" x2="65.8" y2="156.5" stroke="#626262" stroke-width="1.3"/>
<text x="40.2" y="156.5" transform="rotate(-90 40.2 156.5)" text-anchor="middle" dy="0" font-size="10.5" font-family="Liberation Sans, sans-serif" fill="#2a2a2a">4</text>
<line x1="54.5" y1="105.5" x2="65.8" y2="105.5" stroke="#626262" stroke-width="1.3"/>
<text x="40.2" y="105.5" transform="rotate(-90 40.2 105.5)" text-anchor="middle" dy="0" font-size="10.5" font-family="Liberation Sans, sans-serif" fill="#2a2a2a">6</text>
<line x1="54.5" y1="54.5" x2="65.8" y2="54.5" stroke="#626262" stroke-width="1.3"/>
<text x="40.2" y="54.5" transform="rotate(-90 40.2 54.5)" text-anchor="middle" dy="0" font-size="10.5" font-family="Liberation Sans, sans-serif" fill="#2a2a2a">8</text>
<line x1="102.6" y1="268.2" x2="102.6" y2="279.4" stroke="#626262" stroke-width="1.3"/>
<text x="102.6" y="301.8" text-anchor="middle" font-size="10.5" font-family="Liberation Sans, sans-serif" fill="#2a2a2a">0</text>
<line x1="159.5" y1="268.2" x2="159.5" y2="279.4" stroke="#626262" stroke-width="1.3"/>
<text x="159.5" y="301.8" text-anchor="middle" font-size="10.5" font-family="Liberation Sans, sans-serif" fill="#2a2a2a">2</text>
<line x1="216.4" y1="268.2" x2="216.4" y2="279.4" stroke="#626262" stroke-width="1.3"/>
<text x="216.4" y="301.8" text-anchor="middle" font-size="10.5" font-family="Liberation Sans, sans-serif" fill="#2a2a2a">4</text>
<line x1="273.3" y1="268.2" x2="273.3" y2="279.4" stroke="#626262" stroke-width="1.3"/>
<text x="273.3" y="301.8" text-anchor="middle" font-size="10.5" font-family="Liberation Sans, sans-serif" fill="#2a2a2a">6</text>
<text x="191.8" y="334" text-anchor="middle" font-size="10.4" font-family="Liberation Sans, sans-serif" fill="#2a2a2a">-log10(ABF)</text>
<text x="191.8" y="8" text-anchor="middle" font-size="10.3" font-weight="bold" font-family="Liberation Sans, sans-serif" fill="#111">ABF</text>
<text x="9.3" y="142.2" transform="rotate(-90 9.3 142.2)" text-anchor="middle" font-size="10.5" textLength="44.8" lengthAdjust="spacingAndGlyphs" font-family="Liberation Sans, sans-serif" fill="#2a2a2a">-log10(P)</text>
<line x1="66.4" y1="72.8" x2="317.1" y2="72.8" stroke="#ff0000" stroke-width="1.4"/>
<circle cx="231.4" cy="209.6" r="2.7" fill="#ff0000"/>
<text x="242.4" y="214.1" font-size="10.6" textLength="26.4" lengthAdjust="spacingAndGlyphs" font-family="Liberation Sans, sans-serif" fill="#2a2a2a">Small</text>
<line x1="272.2" y1="206.5" x2="272.2" y2="214.9" stroke="#6a6a6a" stroke-width="0.9"/>
<line x1="279.9" y1="206.5" x2="279.9" y2="214.9" stroke="#6a6a6a" stroke-width="0.9"/>
<text x="276.1" y="214.1" text-anchor="middle" font-size="9.6" font-family="Liberation Sans, sans-serif" fill="#2a2a2a">β</text>
<path d="M274.3,205.5 L276.1,203.5 L277.8,205.5" fill="none" stroke="#333" stroke-width="0.9"/>
<circle cx="231.4" cy="224.3" r="2.7" fill="#ffff00"/>
<text x="242.4" y="228.8" font-size="10.6" textLength="38.4" lengthAdjust="spacingAndGlyphs" font-family="Liberation Sans, sans-serif" fill="#2a2a2a">Medium</text>
<line x1="285.2" y1="221.2" x2="285.2" y2="229.6" stroke="#6a6a6a" stroke-width="0.9"/>
<line x1="292.9" y1="221.2" x2="292.9" y2="229.6" stroke="#6a6a6a" stroke-width="0.9"/>
<text x="289.1" y="228.8" text-anchor="middle" font-size="9.6" font-family="Liberation Sans, sans-serif" fill="#2a2a2a">β</text>
<path d="M287.3,220.2 L289.1,218.2 L290.8,220.2" fill="none" stroke="#333" stroke-width="0.9"/>
<circle cx="231.4" cy="239.0" r="2.7" fill="#00ff00"/>
<text x="242.4" y="243.5" font-size="10.6" textLength="25.6" lengthAdjust="spacingAndGlyphs" font-family="Liberation Sans, sans-serif" fill="#2a2a2a">Large</text>
<line x1="272.5" y1="235.9" x2="272.5" y2="244.3" stroke="#6a6a6a" stroke-width="0.9"/>
<line x1="280.2" y1="235.9" x2="280.2" y2="244.3" stroke="#6a6a6a" stroke-width="0.9"/>
<text x="276.4" y="243.5" text-anchor="middle" font-size="9.6" font-family="Liberation Sans, sans-serif" fill="#2a2a2a">β</text>
<path d="M274.6,234.9 L276.4,232.9 L278.1,234.9" fill="none" stroke="#333" stroke-width="0.9"/>
<circle cx="231.4" cy="253.7" r="2.7" fill="#0000ff"/>
<text x="242.4" y="258.2" font-size="10.6" textLength="56.6" lengthAdjust="spacingAndGlyphs" font-family="Liberation Sans, sans-serif" fill="#2a2a2a">Really Large</text>
<line x1="303.6" y1="250.6" x2="303.6" y2="259.0" stroke="#6a6a6a" stroke-width="0.9"/>
<line x1="311.3" y1="250.6" x2="311.3" y2="259.0" stroke="#6a6a6a" stroke-width="0.9"/>
<text x="307.5" y="258.2" text-anchor="middle" font-size="9.6" font-family="Liberation Sans, sans-serif" fill="#2a2a2a">β</text>
<path d="M305.7,249.6 L307.5,247.6 L309.2,249.6" fill="none" stroke="#333" stroke-width="0.9"/>
<rect x="432.6" y="16.2" width="251.9" height="252.0" fill="none" stroke="#626262" stroke-width="1.3"/>
<line x1="421.3" y1="258.5" x2="432.6" y2="258.5" stroke="#626262" stroke-width="1.3"/>
<text x="407.0" y="258.5" transform="rotate(-90 407.0 258.5)" text-anchor="middle" dy="0" font-size="10.5" font-family="Liberation Sans, sans-serif" fill="#2a2a2a">0</text>
<line x1="421.3" y1="207.5" x2="432.6" y2="207.5" stroke="#626262" stroke-width="1.3"/>
<text x="407.0" y="207.5" transform="rotate(-90 407.0 207.5)" text-anchor="middle" dy="0" font-size="10.5" font-family="Liberation Sans, sans-serif" fill="#2a2a2a">2</text>
<line x1="421.3" y1="156.5" x2="432.6" y2="156.5" stroke="#626262" stroke-width="1.3"/>
<text x="407.0" y="156.5" transform="rotate(-90 407.0 156.5)" text-anchor="middle" dy="0" font-size="10.5" font-family="Liberation Sans, sans-serif" fill="#2a2a2a">4</text>
<line x1="421.3" y1="105.5" x2="432.6" y2="105.5" stroke="#626262" stroke-width="1.3"/>
<text x="407.0" y="105.5" transform="rotate(-90 407.0 105.5)" text-anchor="middle" dy="0" font-size="10.5" font-family="Liberation Sans, sans-serif" fill="#2a2a2a">6</text>
<line x1="421.3" y1="54.5" x2="432.6" y2="54.5" stroke="#626262" stroke-width="1.3"/>
<text x="407.0" y="54.5" transform="rotate(-90 407.0 54.5)" text-anchor="middle" dy="0" font-size="10.5" font-family="Liberation Sans, sans-serif" fill="#2a2a2a">8</text>
<line x1="450.6" y1="268.2" x2="450.6" y2="279.4" stroke="#626262" stroke-width="1.3"/>
<text x="450.6" y="301.8" text-anchor="middle" font-size="10.5" font-family="Liberation Sans, sans-serif" fill="#2a2a2a">0</text>
<line x1="512.0" y1="268.2" x2="512.0" y2="279.4" stroke="#626262" stroke-width="1.3"/>
<text x="512.0" y="301.8" text-anchor="middle" font-size="10.5" font-family="Liberation Sans, sans-serif" fill="#2a2a2a">1</text>
<line x1="573.5" y1="268.2" x2="573.5" y2="279.4" stroke="#626262" stroke-width="1.3"/>
<text x="573.5" y="301.8" text-anchor="middle" font-size="10.5" font-family="Liberation Sans, sans-serif" fill="#2a2a2a">2</text>
<line x1="635.0" y1="268.2" x2="635.0" y2="279.4" stroke="#626262" stroke-width="1.3"/>
<text x="635.0" y="301.8" text-anchor="middle" font-size="10.5" font-family="Liberation Sans, sans-serif" fill="#2a2a2a">3</text>
<text x="558.5" y="334" text-anchor="middle" font-size="10.4" font-family="Liberation Sans, sans-serif" fill="#2a2a2a">-log10(SP-EBF)</text>
<text x="558.5" y="8" text-anchor="middle" font-size="10.3" font-weight="bold" font-family="Liberation Sans, sans-serif" fill="#111">SP-EBF</text>
<text x="374.3" y="142.2" transform="rotate(-90 374.3 142.2)" text-anchor="middle" font-size="10.5" textLength="44.8" lengthAdjust="spacingAndGlyphs" font-family="Liberation Sans, sans-serif" fill="#2a2a2a">-log10(P)</text>
<line x1="433.2" y1="72.8" x2="683.9" y2="72.8" stroke="#ff0000" stroke-width="1.4"/>
<circle cx="598.2" cy="209.6" r="2.7" fill="#ff0000"/>
<text x="609.2" y="214.1" font-size="10.6" textLength="26.4" lengthAdjust="spacingAndGlyphs" font-family="Liberation Sans, sans-serif" fill="#2a2a2a">Small</text>
<line x1="639.0" y1="206.5" x2="639.0" y2="214.9" stroke="#6a6a6a" stroke-width="0.9"/>
<line x1="646.7" y1="206.5" x2="646.7" y2="214.9" stroke="#6a6a6a" stroke-width="0.9"/>
<text x="642.9" y="214.1" text-anchor="middle" font-size="9.6" font-family="Liberation Sans, sans-serif" fill="#2a2a2a">β</text>
<path d="M641.1,205.5 L642.9,203.5 L644.6,205.5" fill="none" stroke="#333" stroke-width="0.9"/>
<circle cx="598.2" cy="224.3" r="2.7" fill="#ffff00"/>
<text x="609.2" y="228.8" font-size="10.6" textLength="38.4" lengthAdjust="spacingAndGlyphs" font-family="Liberation Sans, sans-serif" fill="#2a2a2a">Medium</text>
<line x1="652.0" y1="221.2" x2="652.0" y2="229.6" stroke="#6a6a6a" stroke-width="0.9"/>
<line x1="659.7" y1="221.2" x2="659.7" y2="229.6" stroke="#6a6a6a" stroke-width="0.9"/>
<text x="655.9" y="228.8" text-anchor="middle" font-size="9.6" font-family="Liberation Sans, sans-serif" fill="#2a2a2a">β</text>
<path d="M654.1,220.2 L655.9,218.2 L657.6,220.2" fill="none" stroke="#333" stroke-width="0.9"/>
<circle cx="598.2" cy="239.0" r="2.7" fill="#00ff00"/>
<text x="609.2" y="243.5" font-size="10.6" textLength="25.6" lengthAdjust="spacingAndGlyphs" font-family="Liberation Sans, sans-serif" fill="#2a2a2a">Large</text>
<line x1="639.3" y1="235.9" x2="639.3" y2="244.3" stroke="#6a6a6a" stroke-width="0.9"/>
<line x1="647.0" y1="235.9" x2="647.0" y2="244.3" stroke="#6a6a6a" stroke-width="0.9"/>
<text x="643.1" y="243.5" text-anchor="middle" font-size="9.6" font-family="Liberation Sans, sans-serif" fill="#2a2a2a">β</text>
<path d="M641.4,234.9 L643.1,232.9 L644.9,234.9" fill="none" stroke="#333" stroke-width="0.9"/>
<circle cx="598.2" cy="253.7" r="2.7" fill="#0000ff"/>
<text x="609.2" y="258.2" font-size="10.6" textLength="56.6" lengthAdjust="spacingAndGlyphs" font-family="Liberation Sans, sans-serif" fill="#2a2a2a">Really Large</text>
<line x1="670.4" y1="250.6" x2="670.4" y2="259.0" stroke="#6a6a6a" stroke-width="0.9"/>
<line x1="678.1" y1="250.6" x2="678.1" y2="259.0" stroke="#6a6a6a" stroke-width="0.9"/>
<text x="674.3" y="258.2" text-anchor="middle" font-size="9.6" font-family="Liberation Sans, sans-serif" fill="#2a2a2a">β</text>
<path d="M672.5,249.6 L674.3,247.6 L676.0,249.6" fill="none" stroke="#333" stroke-width="0.9"/>
<line x1="684.5" y1="15.8" x2="684.5" y2="268.7" stroke="#2e2e2e" stroke-width="1"/>
</svg>
</body></html>
